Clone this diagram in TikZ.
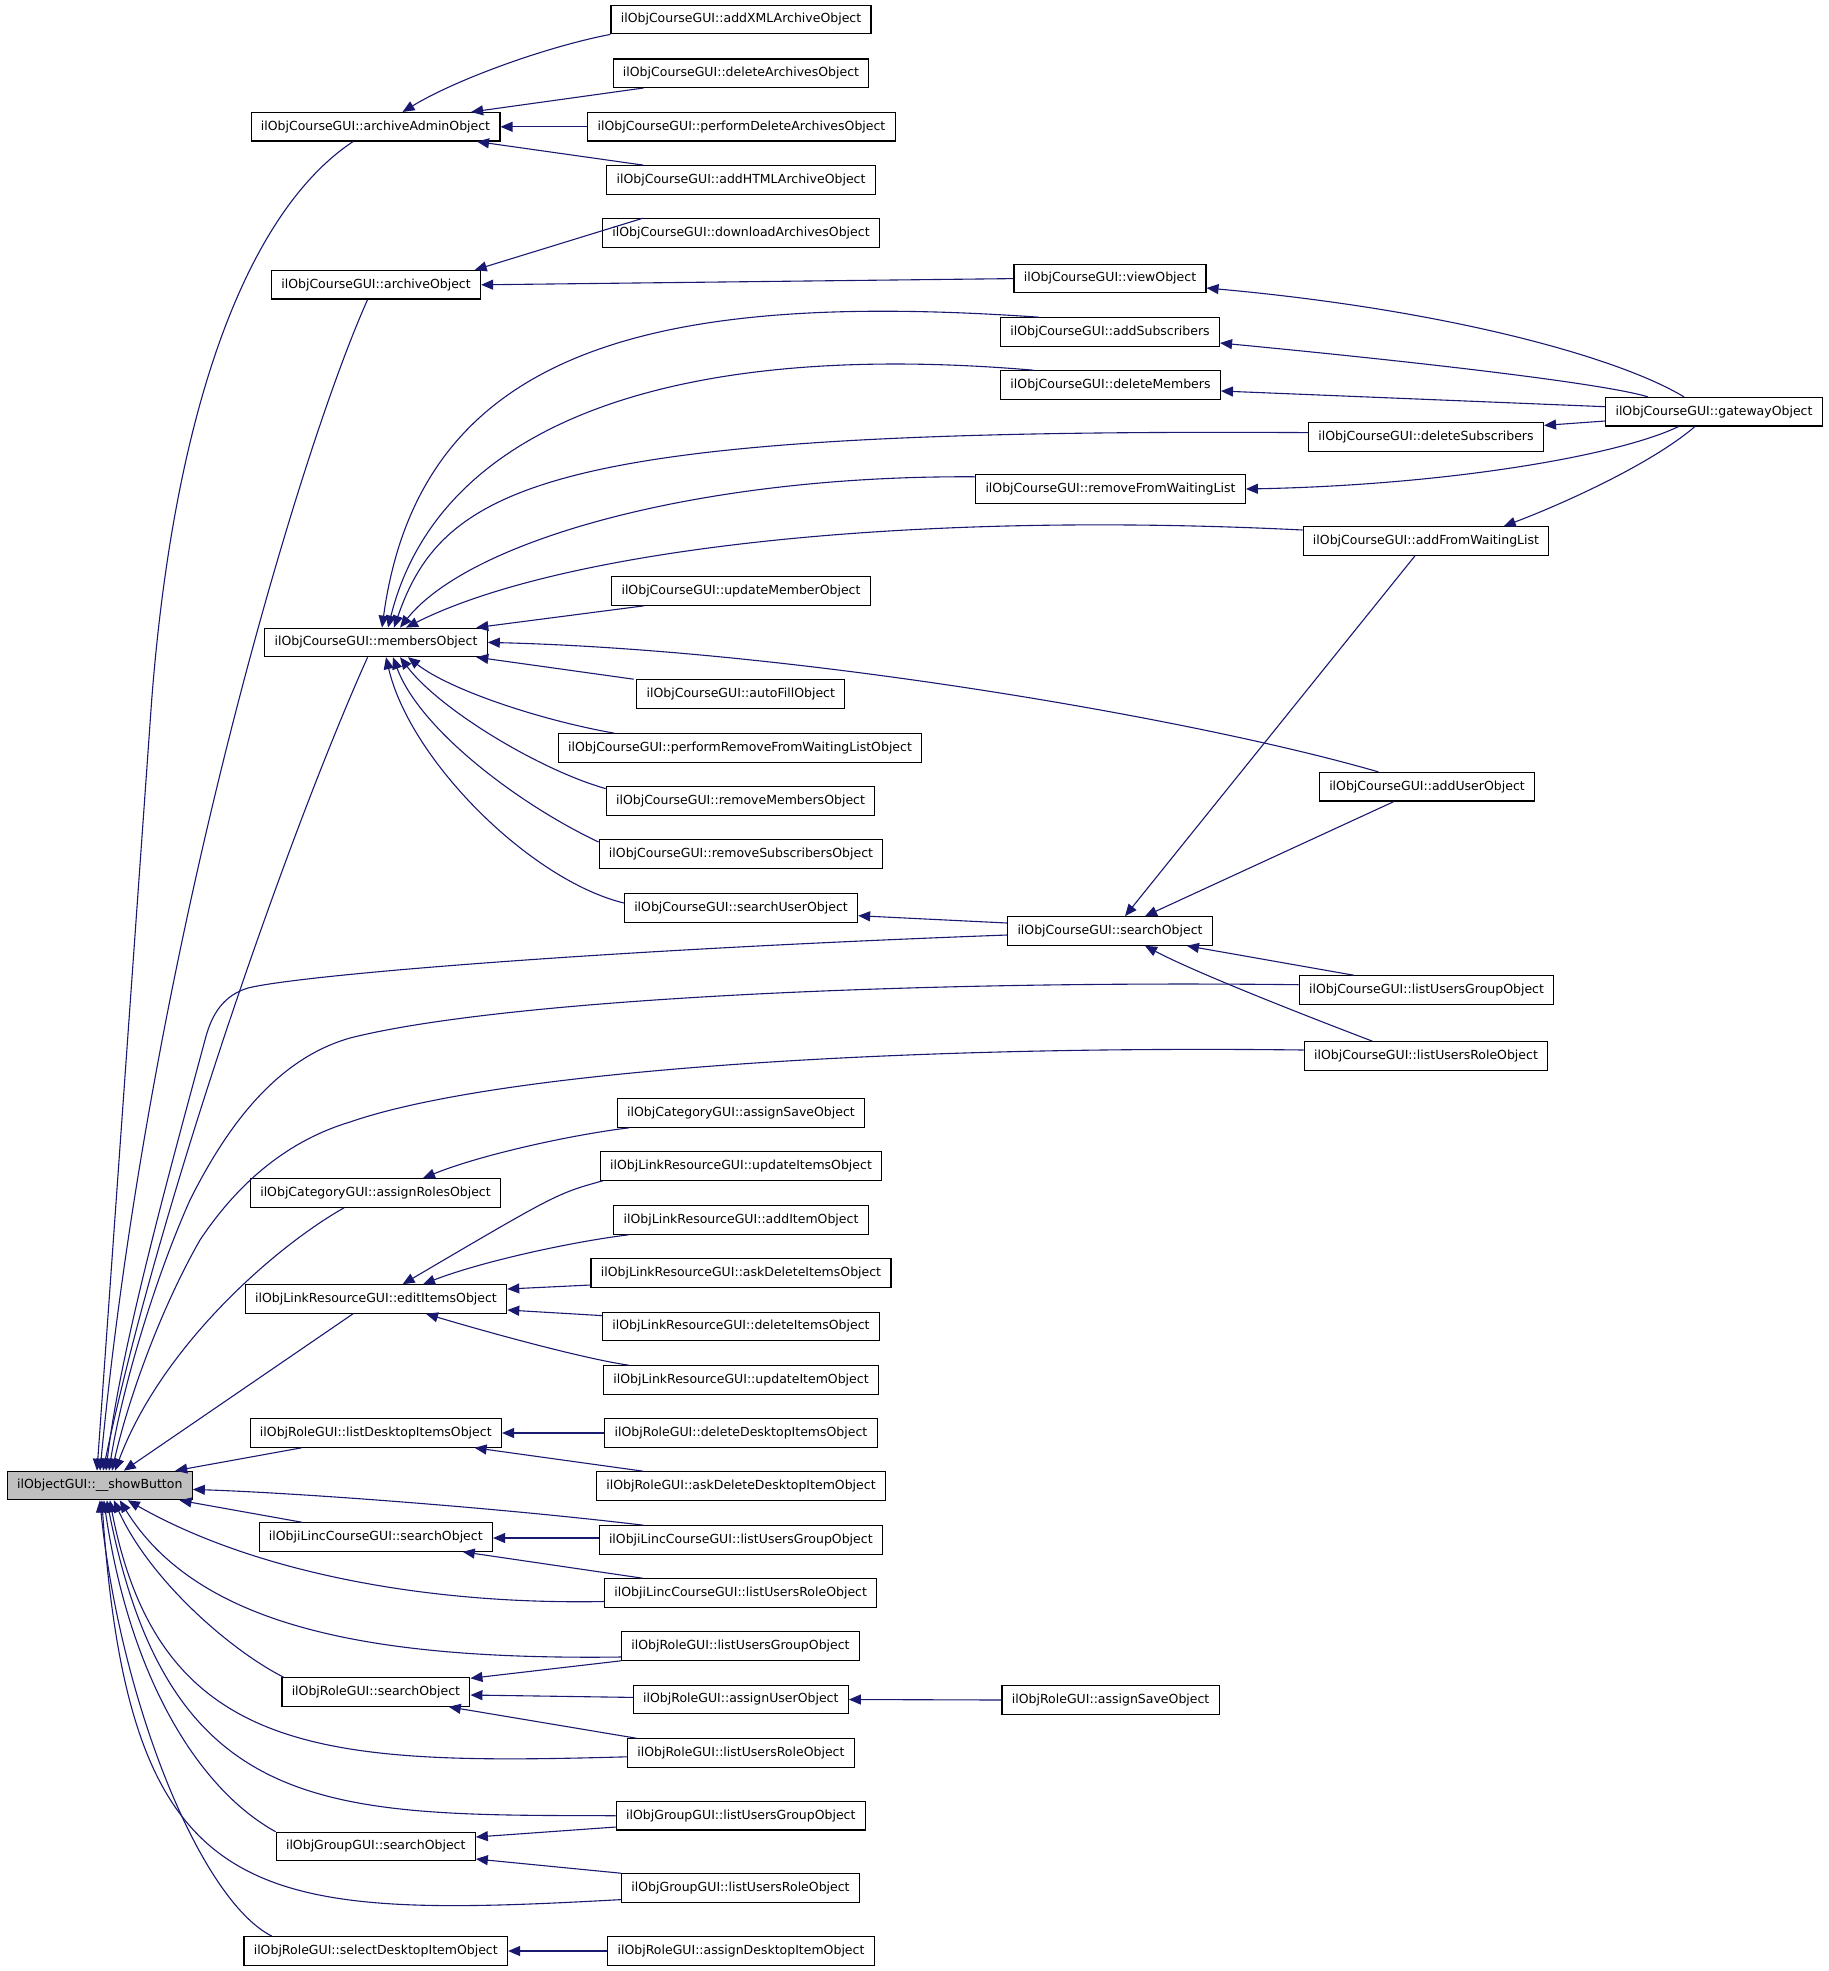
\documentclass[tikz,border=0pt]{standalone}
\usepackage{fontspec}
\newfontfamily\dvs{DejaVu Sans}
\usetikzlibrary{arrows.meta}
\definecolor{edgecol}{RGB}{25,25,112}
\definecolor{graybox}{RGB}{191,191,191}
\begin{document}
\begin{tikzpicture}[x=1pt,y=-1pt,
  box/.style={draw=black,fill=white,line width=1.2pt,inner xsep=9.8pt,inner ysep=0pt,
    minimum height=28.4pt,text height=9.3pt,text depth=2.7pt,
    font=\dvs\fontsize{12.5}{15}\selectfont},
  conn/.style={draw=edgecol,line width=1.1pt,-{Triangle[length=12pt,width=10pt]}}]
\useasboundingbox (0,0) rectangle (1829,1971);
% nodes
\node[box] (addXML) at (741,19.6) {ilObjCourseGUI::addXMLArchiveObject};
\node[box] (delArch) at (741,73.2) {ilObjCourseGUI::deleteArchivesObject};
\node[box] (perfDel) at (741.5,126.8) {ilObjCourseGUI::performDeleteArchivesObject};
\node[box] (addHTML) at (741,179.9) {ilObjCourseGUI::addHTMLArchiveObject};
\node[box] (dlArch) at (741,233) {ilObjCourseGUI::downloadArchivesObject};
\node[box] (aAdmin) at (375.5,126.8) {ilObjCourseGUI::archiveAdminObject};
\node[box] (archObj) at (376,284.8) {ilObjCourseGUI::archiveObject};
\node[box] (viewObj) at (1110,278.6) {ilObjCourseGUI::viewObject};
\node[box] (addSub) at (1110,332) {ilObjCourseGUI::addSubscribers};
\node[box] (delMem) at (1110.5,385) {ilObjCourseGUI::deleteMembers};
\node[box] (gateway) at (1714,411.7) {ilObjCourseGUI::gatewayObject};
\node[box] (delSub) at (1426,437) {ilObjCourseGUI::deleteSubscribers};
\node[box] (remWL) at (1110.5,489) {ilObjCourseGUI::removeFromWaitingList};
\node[box] (addWL) at (1426,541) {ilObjCourseGUI::addFromWaitingList};
\node[box] (updMem) at (741,591) {ilObjCourseGUI::updateMemberObject};
\node[box] (members) at (376,642.4) {ilObjCourseGUI::membersObject};
\node[box] (autoFill) at (740.8,694) {ilObjCourseGUI::autoFillObject};
\node[box] (perfRem) at (740,748) {ilObjCourseGUI::performRemoveFromWaitingListObject};
\node[box] (addUser) at (1427,786.7) {ilObjCourseGUI::addUserObject};
\node[box] (remMem) at (740.5,801) {ilObjCourseGUI::removeMembersObject};
\node[box] (remSubs) at (741,854) {ilObjCourseGUI::removeSubscribersObject};
\node[box] (searchUser) at (741,908) {ilObjCourseGUI::searchUserObject};
\node[box] (cSearch) at (1110,931) {ilObjCourseGUI::searchObject};
\node[box] (cLUG) at (1426.5,990) {ilObjCourseGUI::listUsersGroupObject};
\node[box] (cLUR) at (1426,1056) {ilObjCourseGUI::listUsersRoleObject};
\node[box] (catSave) at (741,1113) {ilObjCategoryGUI::assignSaveObject};
\node[box] (updItems) at (741,1166) {ilObjLinkResourceGUI::updateItemsObject};
\node[box] (assignRoles) at (375.5,1193) {ilObjCategoryGUI::assignRolesObject};
\node[box] (addItem) at (741,1220) {ilObjLinkResourceGUI::addItemObject};
\node[box] (askDelItems) at (741,1273) {ilObjLinkResourceGUI::askDeleteItemsObject};
\node[box] (editItems) at (376,1299) {ilObjLinkResourceGUI::editItemsObject};
\node[box] (delItems) at (741,1326.5) {ilObjLinkResourceGUI::deleteItemsObject};
\node[box] (updItem) at (741,1380) {ilObjLinkResourceGUI::updateItemObject};
\node[box] (listDesk) at (375.8,1433) {ilObjRoleGUI::listDesktopItemsObject};
\node[box] (delDesk) at (741,1433) {ilObjRoleGUI::deleteDesktopItemsObject};
\node[box] (askDelDesk) at (741,1486) {ilObjRoleGUI::askDeleteDesktopItemObject};
\node[box,fill=graybox] (show) at (99.8,1485.5) {ilObjectGUI::\_\_showButton};
\node[box] (iSearch) at (375.8,1537) {ilObjiLincCourseGUI::searchObject};
\node[box] (iLUG) at (740.8,1540) {ilObjiLincCourseGUI::listUsersGroupObject};
\node[box] (iLUR) at (740.7,1593) {ilObjiLincCourseGUI::listUsersRoleObject};
\node[box] (rLUG) at (740.5,1646) {ilObjRoleGUI::listUsersGroupObject};
\node[box] (rSearch) at (375.9,1692) {ilObjRoleGUI::searchObject};
\node[box] (rAssignUser) at (740.8,1699.5) {ilObjRoleGUI::assignUserObject};
\node[box] (rAssignSave) at (1110.6,1700) {ilObjRoleGUI::assignSaveObject};
\node[box] (rLUR) at (740.9,1753) {ilObjRoleGUI::listUsersRoleObject};
\node[box] (gLUG) at (740.8,1815.7) {ilObjGroupGUI::listUsersGroupObject};
\node[box] (gSearch) at (375.75,1846.5) {ilObjGroupGUI::searchObject};
\node[box] (gLUR) at (740.5,1888) {ilObjGroupGUI::listUsersRoleObject};
\node[box] (selDesk) at (375.75,1951) {ilObjRoleGUI::selectDesktopItemObject};
\node[box] (assignDesk) at (741,1951) {ilObjRoleGUI::assignDesktopItemObject};
% archive admin
\draw[conn] (addXML.south west) .. controls (545,47) and (455,80) .. ([xshift=27pt]aAdmin.north);
\draw[conn] ([xshift=31pt]delArch.south west) -- ([xshift=-29.4pt]aAdmin.north east);
\draw[conn] (perfDel.west) -- (aAdmin.east);
\draw[conn] ([xshift=37pt]addHTML.north west) -- ([xshift=-23.5pt]aAdmin.south east);
\draw[conn] ([xshift=41pt]dlArch.north west) -- ([xshift=-6.4pt]archObj.north east);
\draw[conn] (viewObj.west) -- (archObj.east);
% gateway
\draw[conn] ([xshift=-30pt]gateway.north) .. controls (1620,358) and (1450,310) .. ([yshift=-9.4pt]viewObj.east);
\draw[conn] ([xshift=-66pt]gateway.north) .. controls (1610,385) and (1450,365) .. ([yshift=-11pt]addSub.east);
\draw[conn] ([yshift=5pt]gateway.west) -- ([yshift=-6pt]delMem.east);
\draw[conn] ([yshift=-9.3pt]gateway.west) -- ([yshift=11.6pt]delSub.east);
\draw[conn] ([xshift=-35.4pt]gateway.south) .. controls (1620,455) and (1450,485) .. (remWL.east);
\draw[conn] ([xshift=-19pt]gateway.south) .. controls (1650,465) and (1560,505) .. ([xshift=77.7pt]addWL.north);
% members
\draw[conn] ([xshift=39pt]addSub.north west) .. controls (650,290) and (420,350) .. ([xshift=6pt]members.north);
\draw[conn] ([xshift=33.6pt]delMem.north west) .. controls (680,340) and (440,420) .. ([xshift=12pt]members.north);
\draw[conn] ([yshift=4.4pt]delSub.west) .. controls (560,428) and (445,480) .. ([xshift=18pt]members.north);
\draw[conn] ([yshift=12.2pt]remWL.west) .. controls (700,475) and (470,540) .. ([xshift=24pt]members.north);
\draw[conn] ([yshift=11pt]addWL.west) .. controls (900,510) and (560,550) .. ([xshift=30pt]members.north);
\draw[conn] ([xshift=33pt]updMem.south west) -- ([xshift=-11.5pt]members.north east);
\draw[conn] ([xshift=-48.6pt]addUser.north) .. controls (1200,720) and (800,650) .. (members.east);
\draw[conn] ([xshift=-2.5pt]autoFill.north west) -- ([xshift=-11.5pt]members.south east);
\draw[conn] ([xshift=56.7pt]perfRem.north west) .. controls (540,720) and (450,690) .. ([xshift=32pt]members.south);
\draw[conn] ([yshift=12.4pt]remMem.west) .. controls (540,770) and (440,710) .. ([xshift=24pt]members.south);
\draw[conn] ([yshift=12pt]remSubs.west) .. controls (520,805) and (420,730) .. ([xshift=17pt]members.south);
\draw[conn] ([yshift=5pt]searchUser.west) .. controls (530,880) and (410,760) .. ([xshift=10pt]members.south);
\draw[conn] ([yshift=8pt]cSearch.west) -- ([yshift=-7.7pt]searchUser.east);
% course search
\draw[conn] ([xshift=-11pt]addWL.south) -- ([xshift=15pt]cSearch.north);
\draw[conn] ([xshift=-33pt]addUser.south) -- ([xshift=35pt]cSearch.north);
\draw[conn] ([xshift=55pt]cLUG.north west) -- ([xshift=-26pt]cSearch.south east);
\draw[conn] ([xshift=68.8pt]cLUR.north west) .. controls (1330,1025) and (1200,975) .. ([xshift=35pt]cSearch.south);
% show button, top
\draw[conn] ([xshift=-22.5pt]aAdmin.south) .. controls (250,210) and (175,400) .. (151.7,700) -- ([xshift=-2.8pt]show.north);
\draw[conn] ([xshift=-8.4pt]archObj.south) .. controls (300,450) and (150,950) .. ([xshift=0.2pt]show.north);
\draw[conn] ([xshift=-8.4pt]members.south) .. controls (290,830) and (160,1200) .. ([xshift=3.2pt]show.north);
\draw[conn] ([yshift=-4pt]cSearch.west) .. controls (600,950) and (300,975) .. (248,988) .. controls (225,995) and (212,1012) .. (205,1040) .. controls (170,1170) and (120,1350) .. ([xshift=6.2pt]show.north);
\draw[conn] ([yshift=5.3pt]cLUG.west) .. controls (900,980) and (500,1000) .. (350,1038) .. controls (280,1058) and (230,1120) .. (190,1200) .. controls (150,1290) and (120,1400) .. ([xshift=9.2pt]show.north);
\draw[conn] ([yshift=6pt]cLUR.west) .. controls (900,1045) and (500,1070) .. (350,1122) .. controls (290,1140) and (240,1180) .. (200,1240) .. controls (160,1310) and (128,1400) .. ([xshift=12.2pt]show.north);
\draw[conn] ([xshift=-31.5pt]assignRoles.south) .. controls (270,1250) and (160,1350) .. ([xshift=15.2pt]show.north);
\draw[conn] ([xshift=-23pt]editItems.south) -- ([xshift=24pt]show.north);
\draw[conn] ([xshift=52pt]listDesk.south west) -- ([xshift=-17.6pt]show.north east);
\draw[conn] ([xshift=45pt]iLUG.north west) .. controls (500,1508) and (300,1493) .. ([yshift=-3.9pt]show.east);
\draw[conn] ([xshift=43.2pt]iSearch.north west) -- ([xshift=-13.3pt]show.south east);
% show button, bottom
\draw[conn] ([yshift=-8.5pt]iLUR.west) .. controls (420,1605) and (250,1570) .. ([xshift=28pt]show.south);
\draw[conn] ([yshift=-11pt]rLUG.west) .. controls (380,1660) and (200,1630) .. ([xshift=20pt]show.south);
\draw[conn] ([xshift=2.3pt]rSearch.north west) .. controls (230,1650) and (150,1580) .. ([xshift=14pt]show.south);
\draw[conn] ([yshift=-3.8pt]rLUR.west) .. controls (330,1765) and (160,1760) .. ([xshift=10pt]show.south);
\draw[conn] (gLUG.west) .. controls (330,1815) and (170,1820) .. ([xshift=7pt]show.south);
\draw[conn] (gSearch.north west) .. controls (200,1790) and (130,1680) .. ([xshift=4pt]show.south);
\draw[conn] ([yshift=-11.6pt]gLUR.west) .. controls (250,1920) and (130,1910) .. ([xshift=2pt]show.south);
\draw[conn] ([xshift=28.6pt]selDesk.north west) .. controls (200,1900) and (120,1700) .. (show.south);
% role / group / ilinc
\draw[conn] (rLUG.south west) -- ([yshift=13.7pt]rSearch.east);
\draw[conn] ([yshift=2.1pt]rAssignUser.west) -- ([yshift=-3pt]rSearch.east);
\draw[conn] ([xshift=9.3pt]rLUR.north west) -- ([xshift=-21.7pt]rSearch.south east);
\draw[conn] (rAssignSave.west) -- (rAssignUser.east);
\draw[conn] ([yshift=-11.3pt]gLUG.west) -- ([yshift=9.5pt]gSearch.east);
\draw[conn] (gLUR.north west) -- ([yshift=-12.5pt]gSearch.east);
\draw[conn] (assignDesk.west) -- (selDesk.east);
\draw[conn] (delDesk.west) -- (listDesk.east);
\draw[conn] ([xshift=47.4pt]askDelDesk.north west) -- ([xshift=-27.4pt]listDesk.south east);
\draw[conn] ([yshift=2pt]iLUG.west) -- ([yshift=-1pt]iSearch.east);
\draw[conn] ([xshift=38.6pt]iLUR.north west) -- ([xshift=-30.3pt]iSearch.south east);
% link resource / category
\draw[conn] ([xshift=3pt]updItems.south west) .. controls (557,1193.5) .. ([xshift=26.6pt]editItems.north);
\draw[conn] ([xshift=15.3pt]addItem.south west) .. controls (570,1242) and (480,1262) .. ([xshift=47pt]editItems.north);
\draw[conn] ([yshift=-12pt]askDelItems.west) -- ([yshift=10pt]editItems.east);
\draw[conn] ([yshift=10.9pt]delItems.west) -- ([yshift=-11pt]editItems.east);
\draw[conn] ([xshift=25.7pt]updItem.north west) .. controls (580,1358) and (480,1330) .. ([xshift=50pt]editItems.south);
\draw[conn] ([xshift=12.3pt]catSave.south west) .. controls (570,1135) and (480,1155) .. ([xshift=47.5pt]assignRoles.north);
\end{tikzpicture}
\end{document}
